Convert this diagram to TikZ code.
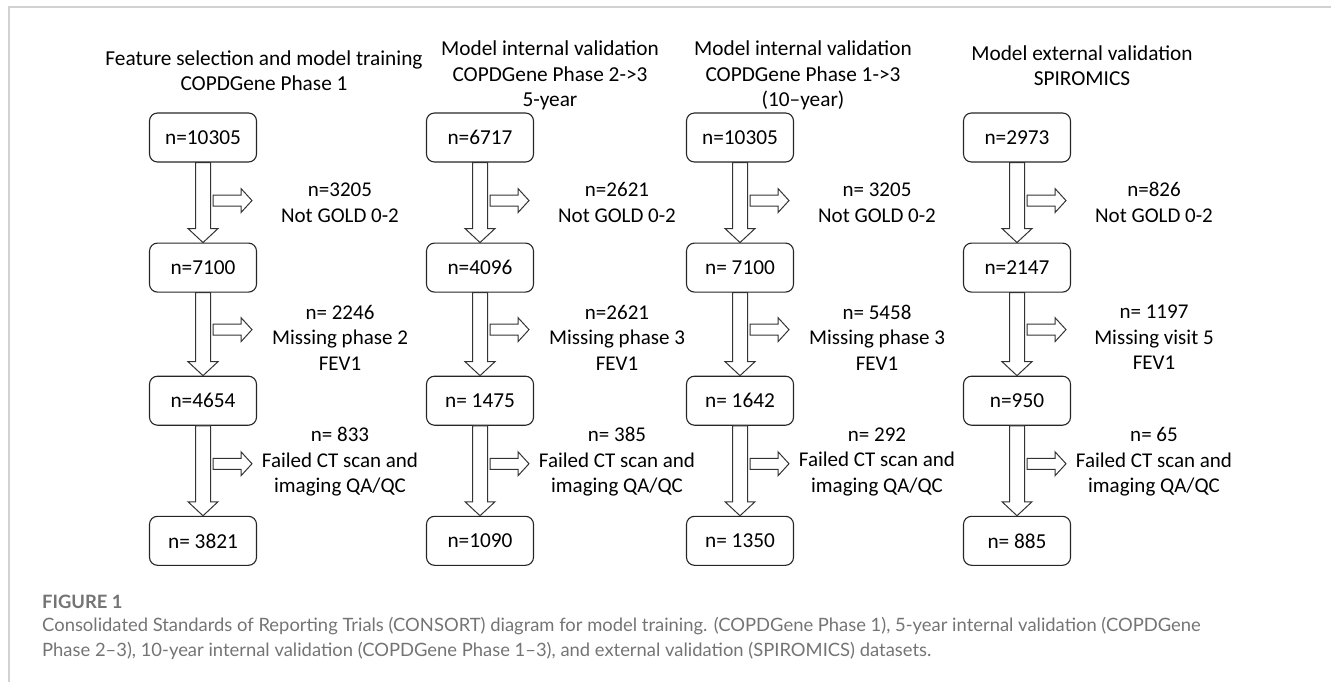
\documentclass[tikz,border=0pt]{standalone}
\usepackage{fontspec}
\setmainfont{Carlito}
\newfontfamily\capfont{Lato}
\usetikzlibrary{positioning, calc}
\definecolor{framegray}{HTML}{D2D2D2}
\definecolor{capgray}{HTML}{747474}

\begin{document}
\begin{tikzpicture}[
    x=1pt, y=-1pt,
    box/.style={
        draw=black!85,
        rounded corners=8pt,
        line width=1.1pt,
        minimum width=107pt,
        minimum height=49pt,
        inner sep=2pt,
        font=\fontsize{21.3}{25.5}\selectfont
    },
    note/.style={
        align=center,
        inner sep=0pt,
        font=\fontsize{21}{25.5}\selectfont
    },
    title/.style={
        align=center,
        inner sep=0pt,
        font=\fontsize{21.3}{25.5}\selectfont
    },
    hollow/.style={
        draw=black!80,
        line width=1pt,
        line join=miter,
        fill=white
    },
    fatdown/.style={
        hollow,
        to path={($(\tikztostart)+(-7.5,0)$) -- ($(\tikztotarget)+(-7.5,-14)$)
            -- ($(\tikztotarget)+(-15,-14)$) -- (\tikztotarget)
            -- ($(\tikztotarget)+(15,-14)$) -- ($(\tikztotarget)+(7.5,-14)$)
            -- ($(\tikztostart)+(7.5,0)$) -- cycle}
    },
    fatright/.style={
        hollow,
        to path={($(\tikztostart)+(0,-5.5)$) -- ($(\tikztotarget)+(-11,-5.5)$)
            -- ($(\tikztotarget)+(-11,-12)$) -- (\tikztotarget)
            -- ($(\tikztotarget)+(-11,12)$) -- ($(\tikztotarget)+(-11,5.5)$)
            -- ($(\tikztostart)+(0,5.5)$) -- cycle}
    },
    caption/.style={
        anchor=base west,
        inner sep=0pt,
        text=capgray,
        font=\capfont\fontsize{18.4}{25}\selectfont
    }
]
\useasboundingbox (0,0) rectangle (1331,682);

% Frame
\draw [framegray, line width=1.5pt] (9,682) -- (9,7) -- (1331,7);

% Titles
\node (t1) [title] at (264,70.5) {Feature selection and model training\\COPDGene Phase 1};
\node (t2) [title] at (550,75.5) {Model internal validation\\COPDGene Phase 2->3\\5-year};
\node (t3) [title] at (803,75.5) {Model internal validation\\COPDGene Phase 1->3\\(10–year)};
\node (t4) [title] at (1082,65.5) {Model external validation\\SPIROMICS};

% Boxes
\node (b11) [box] at (203,137.5) {n=10305};
\node (b12) [box, below=80pt of b11] {n=7100};
\node (b13) [box, below=83pt of b12] {n=4654};
\node (b14) [box, below=90pt of b13] {n= 3821};

\node (b21) [box] at (480,137.5) {n=6717};
\node (b22) [box, below=80pt of b21] {n=4096};
\node (b23) [box, below=83pt of b22] {n= 1475};
\node (b24) [box, below=90pt of b23] {n=1090};

\node (b31) [box] at (740,137.5) {n=10305};
\node (b32) [box, below=80pt of b31] {n= 7100};
\node (b33) [box, below=83pt of b32] {n= 1642};
\node (b34) [box, below=90pt of b33] {n= 1350};

\node (b41) [box] at (1017,137.5) {n=2973};
\node (b42) [box, below=80pt of b41] {n=2147};
\node (b43) [box, below=83pt of b42] {n=950};
\node (b44) [box, below=90pt of b43] {n= 885};

% Exclusions
\node (l11) [note] at ($(b11.south)+(137,40)$) {n=3205\\Not GOLD 0-2};
\node (l12) [note] at ($(b12.south)+(137,45)$) {n= 2246\\Missing phase 2\\FEV1};
\node (l13) [note] at ($(b13.south)+(137,36)$) {n= 833\\Failed CT scan and\\imaging QA/QC};

\node (l21) [note] at ($(b21.south)+(137,40)$) {n=2621\\Not GOLD 0-2};
\node (l22) [note] at ($(b22.south)+(137,45)$) {n=2621\\Missing phase 3\\FEV1};
\node (l23) [note] at ($(b23.south)+(137,36)$) {n= 385\\Failed CT scan and\\imaging QA/QC};

\node (l31) [note] at ($(b31.south)+(137,40)$) {n= 3205\\Not GOLD 0-2};
\node (l32) [note] at ($(b32.south)+(137,45)$) {n= 5458\\Missing phase 3\\FEV1};
\node (l33) [note] at ($(b33.south)+(137,36)$) {n= 292\\Failed CT scan and\\imaging QA/QC};

\node (l41) [note] at ($(b41.south)+(137,40)$) {n=826\\Not GOLD 0-2};
\node (l42) [note] at ($(b42.south)+(137,45)$) {n= 1197\\Missing visit 5\\FEV1};
\node (l43) [note] at ($(b43.south)+(137,36)$) {n= 65\\Failed CT scan and\\imaging QA/QC};

% Paths
\draw [fatdown] (b11.south) to (b12.north);
\draw [fatdown] (b12.south) to (b13.north);
\draw [fatdown] (b13.south) to (b14.north);
\draw [fatdown] (b21.south) to (b22.north);
\draw [fatdown] (b22.south) to (b23.north);
\draw [fatdown] (b23.south) to (b24.north);
\draw [fatdown] (b31.south) to (b32.north);
\draw [fatdown] (b32.south) to (b33.north);
\draw [fatdown] (b33.south) to (b34.north);
\draw [fatdown] (b41.south) to (b42.north);
\draw [fatdown] (b42.south) to (b43.north);
\draw [fatdown] (b43.south) to (b44.north);

% Side arrows
\foreach \c in {1,2,3,4} {
    \coordinate (s\c1) at ($(b\c1.south)+(10,38)$);
    \coordinate (s\c2) at ($(b\c2.south)+(10,37)$);
    \coordinate (s\c3) at ($(b\c3.south)+(10,38)$);
    \draw [fatright] (s\c1) to ($(s\c1)+(39,0)$);
    \draw [fatright] (s\c2) to ($(s\c2)+(39,0)$);
    \draw [fatright] (s\c3) to ($(s\c3)+(39,0)$);
}

% Caption
\node (fig) [caption, font=\capfont\bfseries\fontsize{18.4}{25}\selectfont] at (42,608.5) {FIGURE 1};
\node (cap1) [caption] at (42,631) {Consolidated Standards of Reporting Trials (CONSORT) diagram for model training. (COPDGene Phase 1), 5-year internal validation (COPDGene};
\node (cap2) [caption] at (42,656) {Phase 2–3), 10-year internal validation (COPDGene Phase 1–3), and external validation (SPIROMICS) datasets.};

\end{tikzpicture}
\end{document}
